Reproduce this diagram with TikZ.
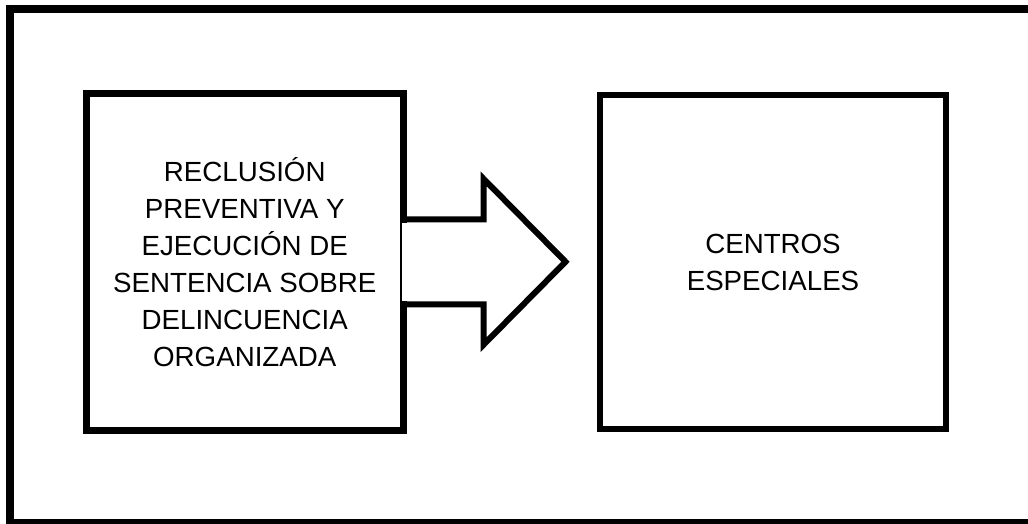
\documentclass[tikz,border=0pt]{standalone}
\usepackage{fontspec}
\setmainfont{Liberation Sans}
\usetikzlibrary{calc}
\tikzset{
  box/.style={draw,line width=6.5pt,line join=miter,inner sep=0pt,align=center,
    font=\fontsize{27.7}{37}\selectfont},
  blockarrow/.style={draw,line width=6pt,line join=miter}
}
\begin{document}
\begin{tikzpicture}[x=1pt,y=-1pt]
  \useasboundingbox (0,0) rectangle (1028,523);
  \draw[line width=8pt,line join=miter] (1028,9) -- (10,9) -- (10,523) -- (1028,523);
  \node[box,minimum width=317pt,minimum height=337pt] (reclusion) at (244.75,261.75)
    {RECLUSI\'ON\\PREVENTIVA Y\\EJECUCI\'ON DE\\SENTENCIA SOBRE\\DELINCUENCIA\\ORGANIZADA};
  \node[box,minimum width=346pt,minimum height=334pt] (centros) at (773,262)
    {CENTROS\\ESPECIALES};
  \pgfmathsetmacro\shaft{42.5}
  \pgfmathsetmacro\head{83}
  \pgfmathsetmacro\neck{77}
  \pgfmathsetmacro\tip{159}
  \fill[white] ($(reclusion.east)+(-5,-\shaft+3.25)$) rectangle ($(reclusion.east)+(5,\shaft-3.25)$);
  \coordinate (tip) at ($(reclusion.east)+(\tip,0)$);
  \draw[blockarrow] ($(reclusion.east)+(-3.25,-\shaft)$) -- ++(\neck+3.25,0) -- ++(0,\shaft-\head)
    -- (tip) -- ($(reclusion.east)+(\neck,\head)$) -- ++(0,\shaft-\head) -- ($(reclusion.east)+(-3.25,\shaft)$);
\end{tikzpicture}
\end{document}
